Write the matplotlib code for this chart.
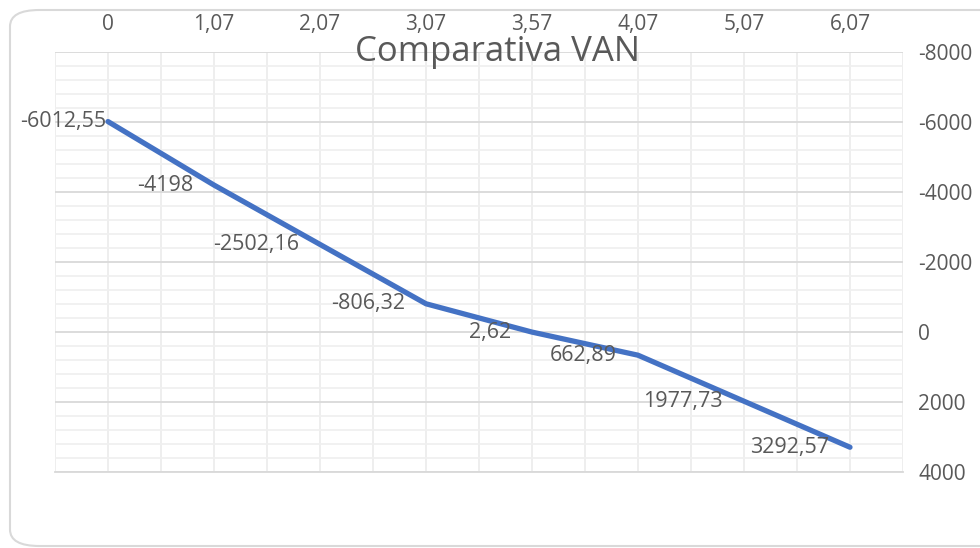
import matplotlib
matplotlib.use("Agg")
import matplotlib.pyplot as plt
from matplotlib.patches import FancyBboxPatch
import numpy as np

categories = ["0", "1,07", "2,07", "3,07", "3,57", "4,07", "5,07", "6,07"]
van_values = [-6012.55, -4198, -2502.16, -806.32, 2.62, 662.89, 1977.73, 3292.57]
value_labels = ["-6012,55", "-4198", "-2502,16", "-806,32", "2,62", "662,89", "1977,73", "3292,57"]

plt.rcParams['font.family'] = ['Open Sans', 'DejaVu Sans']
text_color = "#595959"

fig = plt.figure(figsize=(9.8, 5.48), dpi=100)
fig.patch.set_facecolor("white")

# Rounded chart border
border = FancyBboxPatch((10 / 980, 2 / 548), 1.2, 536 / 548,
                        boxstyle="round,pad=0,rounding_size=0.03",
                        transform=fig.transFigure, facecolor="none",
                        edgecolor="#D9D9D9", linewidth=1.5, clip_on=False)
fig.patches.append(border)

ax = fig.add_axes([55 / 980, 1 - 472 / 548, (903 - 55) / 980, (472 - 52) / 548])
x = np.arange(len(categories))

ax.set_xlim(-0.5, len(categories) - 0.5)
ax.set_ylim(4000, -8000)

# gridlines
for gx in np.arange(-0.5, len(categories), 0.5):
    ax.axvline(gx, color="#EDEDED", lw=1.3, zorder=0)
for gy in np.arange(-8000, 4001, 400):
    if gy % 2000 == 0:
        ax.axhline(gy, color="#D9D9D9", lw=1.3, zorder=1)
    else:
        ax.axhline(gy, color="#F0F0F0", lw=1.3, zorder=0)

ax.plot(x, van_values, color="#4472C4", lw=3.8, solid_capstyle="round", zorder=3)

for i, (xi, v, lab) in enumerate(zip(x, van_values, value_labels)):
    dx = -1 if i == 0 else -15
    ax.annotate(lab, (xi, v), xytext=(dx, 0), textcoords="offset points",
                ha="right", va="center", fontsize=15.5, color=text_color, zorder=4,
                annotation_clip=False)

ax.xaxis.tick_top()
ax.set_xticks(x)
ax.set_xticklabels(categories)
ax.yaxis.tick_right()
ax.set_yticks(np.arange(-8000, 4001, 2000))
ax.set_yticklabels([str(int(t)) for t in np.arange(-8000, 4001, 2000)])
ax.tick_params(axis="x", length=0, pad=12, labelsize=15, labelcolor=text_color)
ax.tick_params(axis="y", length=0, pad=11, labelsize=15, labelcolor=text_color)
for s in ["top", "left", "right"]:
    ax.spines[s].set_visible(False)
ax.spines["bottom"].set_color("#D9D9D9")
ax.spines["bottom"].set_linewidth(1.3)

fig.text(497 / 980, 1 - 52 / 548, "Comparativa VAN", ha="center", va="center",
         fontsize=25, color=text_color)

fig.savefig("out.png", dpi=100, facecolor="white")
